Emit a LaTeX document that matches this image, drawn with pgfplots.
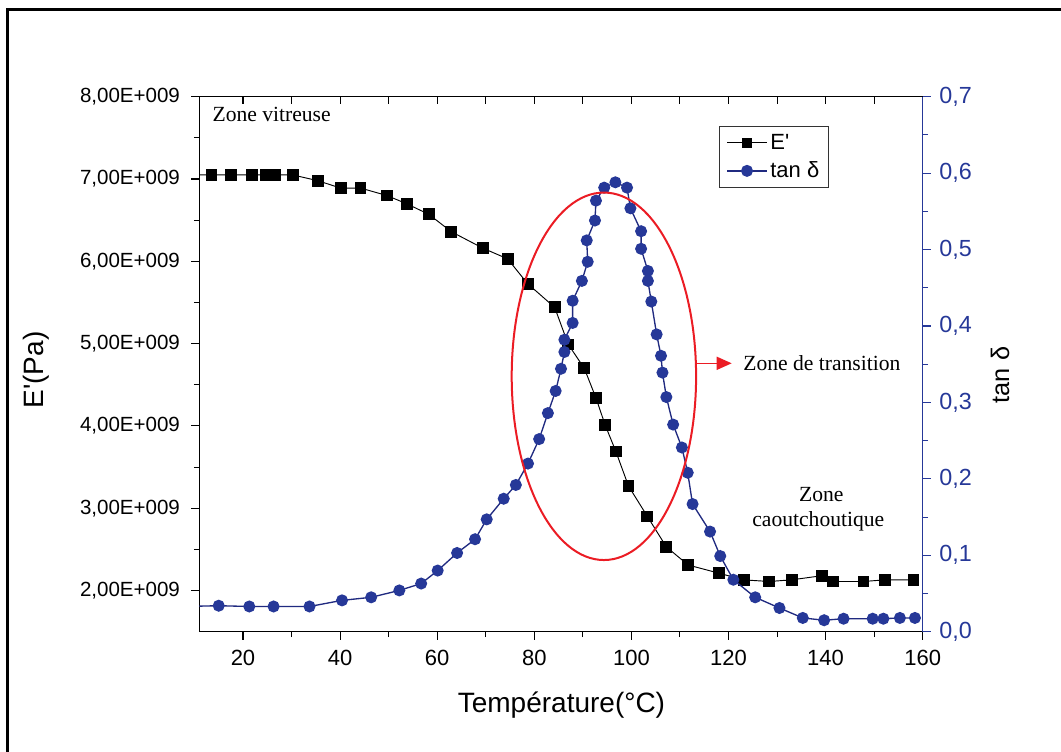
\documentclass[border=0pt]{standalone}
\usepackage{fontspec}
\setmainfont{Liberation Serif}
\newfontfamily\arial{Liberation Sans}
\usepackage{pgfplots}
\pgfplotsset{compat=1.18}
\usetikzlibrary{arrows.meta}
\definecolor{myblue}{RGB}{38,56,152}
\definecolor{navyline}{RGB}{32,42,128}
\definecolor{myred}{RGB}{235,28,36}
\begin{document}
\begin{tikzpicture}
\useasboundingbox (-149.475pt,-89.475pt) rectangle (646.275pt,473.775pt);
\draw[line width=2.25pt] (-143.475pt,-100pt) -- (-143.475pt,466.275pt) -- (660pt,466.275pt);
\pgfplotsset{
  base/.style={at={(0pt,0pt)}, anchor=south west, scale only axis,
    width=542.55pt, height=401.25pt, xmin=11, xmax=160,
    xtick={20,40,...,160}, minor x tick num=1,
    major tick length=6pt, minor tick length=4pt,
    /pgf/number format/assume math mode=true,
    scaled y ticks=false, scaled x ticks=false,
    ticklabel style={font=\arial\fontsize{15.4}{18}\selectfont},
    every tick/.style={line width=0.8pt},
    axis line style={line width=0.9pt},
  }
}
% Axis 1: E'
\begin{axis}[base, ymin=1.5e9, ymax=8e9,
  ytick={2e9,3e9,4e9,5e9,6e9,7e9,8e9},
  yticklabels={{2,00E+009},{3,00E+009},{4,00E+009},{5,00E+009},{6,00E+009},{7,00E+009},{8,00E+009}},
  minor y tick num=1,
  xtick pos=left, ytick pos=left, tick align=outside,
  xticklabel style={yshift=-4pt, font=\arial\fontsize{16.5}{19}\selectfont},
  yticklabel style={xshift=-5pt}]
\addplot[black, line width=0.7pt, mark=square*, mark size=4.1pt, mark options={solid, fill=black}] coordinates {
(8,7.05e9) (13.5,7.05e9) (17.6,7.05e9) (21.9,7.05e9) (24.8,7.05e9) (26.6,7.05e9) (30.2,7.05e9)
(35.4,6.98e9) (40.1,6.89e9) (44.2,6.89e9) (49.6,6.80e9) (53.7,6.70e9) (58.3,6.57e9)
(62.9,6.36e9) (69.4,6.16e9) (74.5,6.03e9) (78.6,5.73e9) (84.2,5.44e9) (87.0,4.99e9)
(90.3,4.70e9) (92.7,4.34e9) (94.6,4.01e9) (96.8,3.69e9) (99.4,3.27e9) (103.3,2.90e9)
(107.2,2.53e9) (111.7,2.31e9) (118.1,2.21e9) (123.1,2.13e9) (128.4,2.11e9) (133.0,2.13e9)
(139.2,2.18e9) (141.5,2.11e9) (147.8,2.11e9) (152.2,2.13e9) (158.1,2.13e9)
};
\end{axis}
% Axis 3: top ticks inward
\begin{axis}[base, ymin=0, ymax=1, axis x line*=top, hide y axis, tick align=inside,
  xticklabels={}, major tick length=5.5pt, minor tick length=5.5pt, x axis line style={-}]
\end{axis}
% Axis 2: tan delta
\begin{axis}[base, ymin=0, ymax=0.7,
  ytick={0,0.1,0.2,0.3,0.4,0.5,0.6,0.7},
  yticklabels={{0,0},{0,1},{0,2},{0,3},{0,4},{0,5},{0,6},{0,7}},
  minor y tick num=1,
  hide x axis, axis y line*=right, tick align=outside,
  y axis line style={myblue, line width=1.1pt, -},
  ytick style={myblue}, yticklabel style={myblue, xshift=3pt, font=\arial\fontsize{17.5}{20}\selectfont},
  legend style={at={(axis description cs:0.7188,0.9458)}, anchor=north west,
    draw=black!80, line width=0.6pt, font=\arial\fontsize{16.5}{19}\selectfont,
    inner xsep=5pt, inner ysep=4pt, row sep=4pt},
  legend cell align=left,
  legend image code/.code={\draw[mark repeat=2,mark phase=2] plot coordinates {(0pt,0pt) (15pt,0pt) (30pt,0pt)};}]
\addlegendimage{black, line width=0.7pt, mark=square*, mark size=3.3pt, mark options={solid, fill=black}}
\addlegendentry{E\textquotesingle}
\addplot[navyline, line width=1pt, mark=*, mark size=4pt, mark options={solid, fill=myblue, draw=myblue}] coordinates {
(8,0.033) (15.0,0.034) (21.3,0.033) (26.3,0.033) (33.7,0.033) (40.4,0.041) (46.4,0.045)
(52.2,0.054) (56.7,0.063) (60.1,0.080) (64.1,0.103) (67.8,0.121) (70.2,0.147) (73.7,0.174)
(76.2,0.192) (78.7,0.220) (81.0,0.252) (82.8,0.286) (84.4,0.315) (85.5,0.344) (86.2,0.366)
(86.2,0.382) (87.9,0.404) (87.9,0.433) (89.8,0.459) (91.0,0.484) (90.8,0.512) (92.5,0.538)
(92.7,0.564) (94.4,0.581) (96.7,0.588) (99.1,0.581) (99.8,0.554) (102.0,0.524) (102.0,0.501)
(103.4,0.472) (103.4,0.459) (104.1,0.432) (105.2,0.389) (106.1,0.361) (106.4,0.339)
(107.2,0.307) (108.6,0.271) (110.4,0.241) (111.6,0.208) (112.6,0.167) (116.2,0.131)
(118.3,0.099) (121.0,0.068) (125.5,0.045) (130.5,0.031) (135.3,0.018) (139.7,0.015)
(143.7,0.017) (149.7,0.017) (151.9,0.017) (155.3,0.018) (158.4,0.018)
};
\addlegendentry{tan δ}
\end{axis}
% annotations
\draw[myred, line width=1.5pt] (303.45pt,191.55pt) ellipse [x radius=69.15pt, y radius=137.8pt];
\draw[myred, line width=1.2pt, -{Triangle[length=11.25pt,width=9.75pt]}] (373pt,201.3pt) -- (399.3pt,201.3pt);
\node[anchor=base west, inner sep=0pt, font=\fontsize{16.2}{19}\selectfont] at (407.8pt,195.7pt) {Zone de transition};
\node[anchor=base west, inner sep=0pt, font=\fontsize{16.2}{19}\selectfont] at (9.75pt,383pt) {Zone vitreuse};
\node[anchor=base, inner sep=0pt, font=\fontsize{16.2}{19}\selectfont] at (466.5pt,97.5pt) {Zone};
\node[anchor=base, inner sep=0pt, font=\fontsize{16.2}{19}\selectfont] at (464.25pt,78.75pt) {caoutchoutique};
% axis titles
\node[font=\arial\fontsize{21}{25}\selectfont] at (271.6pt,-55pt) {Température(°C)};
\node[rotate=90, font=\arial\fontsize{21}{25}\selectfont] at (-122.5pt,196.3pt) {E\textquotesingle(Pa)};
\node[rotate=90, font=\arial\fontsize{19}{22}\selectfont] at (600.5pt,192.5pt) {tan δ};
\end{tikzpicture}
\end{document}
